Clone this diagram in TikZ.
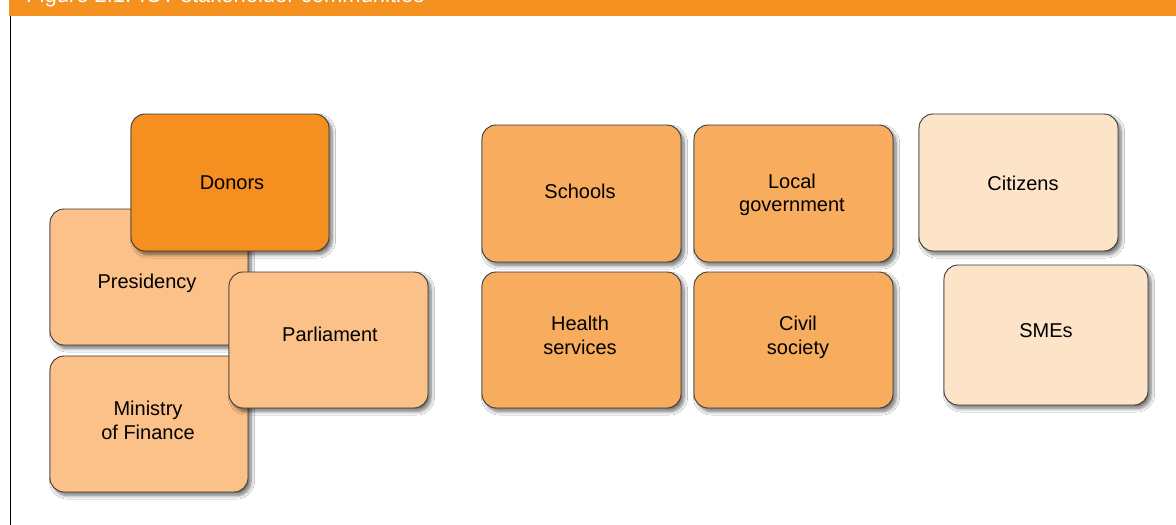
\documentclass[tikz,border=0pt]{standalone}
\usepackage{fontspec}
\setmainfont{Liberation Sans}
\usetikzlibrary{shadows.blur}
\definecolor{titleorange}{HTML}{F5911F}
\definecolor{donorcol}{HTML}{F48F20}
\definecolor{lightcol}{HTML}{FCC188}
\definecolor{midcol}{HTML}{F8AC5E}
\definecolor{palecol}{HTML}{FDE3C7}
\definecolor{bordercol}{HTML}{383838}
\tikzset{
  card/.style={draw=bordercol, line width=0.9pt, rounded corners=14pt, rectangle,
    blur shadow={shadow xshift=3pt, shadow yshift=-3.5pt, shadow blur radius=3.5pt, shadow blur steps=8, shadow opacity=55}},
  cardtext/.style={align=center, inner sep=0pt, font=\fontsize{20}{23.5}\selectfont, text=black},
}
\newcommand{\card}[6]{% name, x1, y1, x2, y2, color
  \path[card, fill=#6] (#2,#3) rectangle (#4,#5);
  \coordinate (#1) at ({(#2+#4)/2},{(#3+#5)/2});
}
\begin{document}
\begin{tikzpicture}[x=1pt, y=-1pt]
\useasboundingbox (0,0) rectangle (1176,525);
\fill[white] (0,0) rectangle (1176,525);
% title bar
\fill[titleorange] (9,0) rectangle (1176,15.5);
\node[anchor=base west, inner sep=0pt, text=white, font=\fontsize{22}{24}\selectfont] (title) at (26,2.6) {Figure 2.1: ICT stakeholder communities};
\draw[black, line width=1.2pt] (10.6,15.5) -- (10.6,525);
% left group
\card{pres}{50}{209}{248}{345}{lightcol}
\card{minf}{50}{356}{248}{492}{lightcol}
\card{parl}{229}{272}{428}{408}{lightcol}
\card{donors}{131}{114}{329}{251}{donorcol}
% middle group
\card{schools}{482}{125}{681}{262}{midcol}
\card{localgov}{694}{125}{893}{262}{midcol}
\card{health}{482}{272}{681}{408}{midcol}
\card{civil}{694}{272}{893}{408}{midcol}
% right group
\card{citizens}{919}{114}{1118}{251}{palecol}
\card{smes}{944}{265}{1148}{405}{palecol}
% labels
\node[cardtext] (donorsT) at (232,183) {Donors};
\node[cardtext] (presT) at (147,283) {Presidency};
\node[cardtext] (parlT) at (330,334) {Parliament};
\node[cardtext] (minfT) at (148,420.5) {Ministry\\of Finance};
\node[cardtext] (schoolsT) at (580,191) {Schools};
\node[cardtext] (localgovT) at (792,195) {Local\\government};
\node[cardtext] (healthT) at (580,335.5) {Health\\services};
\node[cardtext] (civilT) at (798,337.5) {Civil\\society};
\node[cardtext] (citizensT) at (1023,183) {Citizens};
\node[cardtext] (smesT) at (1046,331) {SMEs};
\end{tikzpicture}
\end{document}
